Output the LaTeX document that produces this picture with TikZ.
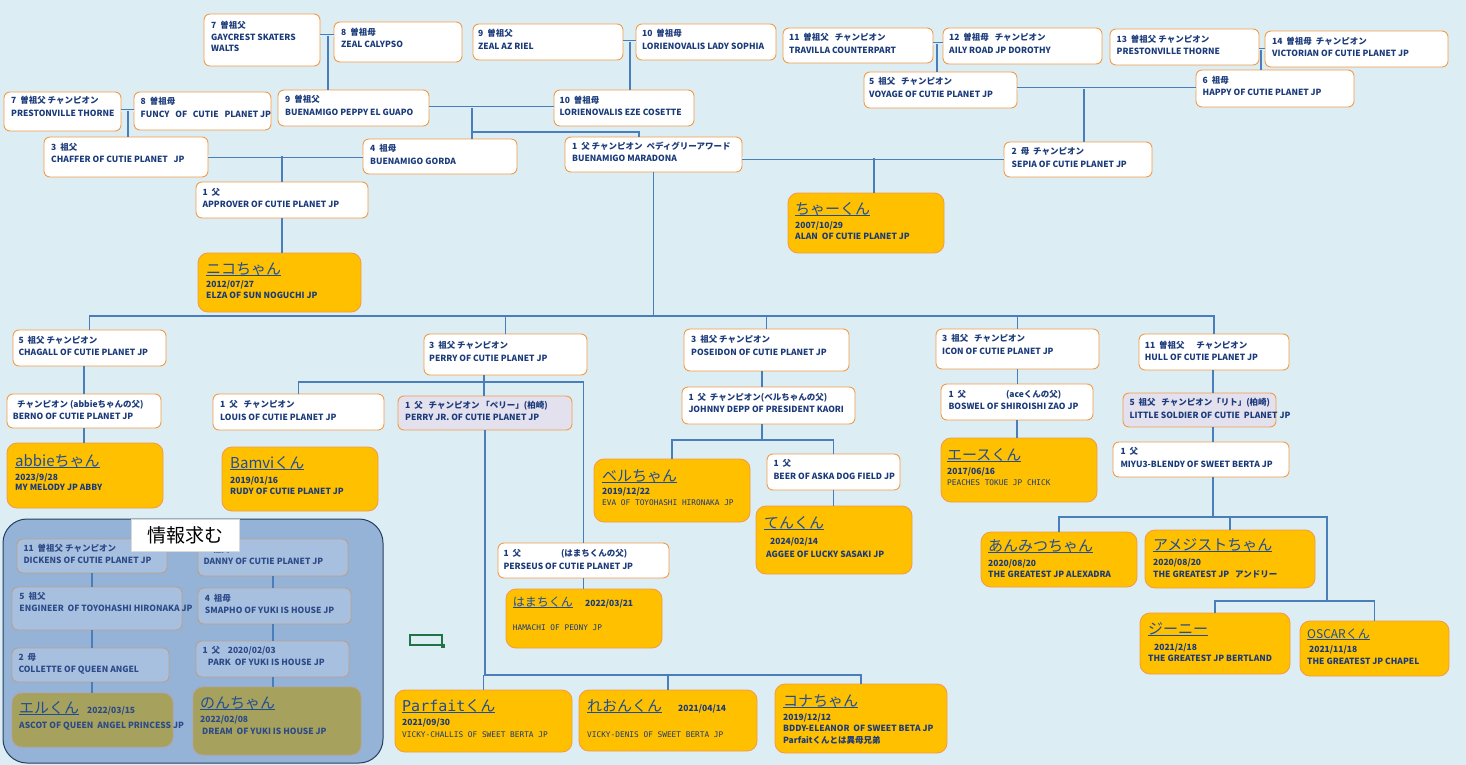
\documentclass[tikz,border=0pt]{standalone}
\usepackage{fontspec}
\setmainfont{Noto Sans CJK JP}
\newfontfamily\monof{DejaVu Sans Mono}
\usetikzlibrary{fit}
\definecolor{bgc}{HTML}{DCEEF4}
\definecolor{bord}{HTML}{F59A45}
\definecolor{gold}{HTML}{FFC000}
\definecolor{lav}{HTML}{E4E1EE}
\definecolor{navy}{HTML}{1A3A7A}
\definecolor{tblue}{HTML}{1F4E99}
\definecolor{lblue}{HTML}{4A7EBB}
\definecolor{pfill}{HTML}{95B3D7}
\definecolor{pdark}{HTML}{243F60}
\definecolor{pinner}{HTML}{A8C0DF}
\definecolor{pbord}{HTML}{B9A08E}
\definecolor{olivef}{HTML}{A6A15C}
\definecolor{ptext}{HTML}{2C4A88}
\definecolor{xlgreen}{HTML}{217346}
\newcommand\uln[1]{\setbox0=\hbox{#1}\rlap{\rule[-2.2pt]{\wd0}{1.1pt}}\box0}
\newcommand\bx[6]{\node[#2, fit={(#3,#4) (#5,#6)}] (#1) {};}
\newcommand\tline[6]{\node[#2, anchor=base west] (#1) at ([shift={(#4,#5)}]#3.north west) {#6};}
\newcommand\dbl[2]{\draw[dout] #1 -- #2; \draw[din] #1 -- #2;}
\tikzset{
  wb/.style={rectangle, draw=bord, line width=0.9pt, fill=white, rounded corners=6pt, inner sep=0pt, outer sep=0pt},
  lb/.style={wb, fill=lav},
  yb/.style={wb, fill=gold, rounded corners=10pt},
  pb/.style={wb, fill=pinner, draw=pbord},
  ob/.style={yb, fill=olivef, draw=pbord},
  txt/.style={inner sep=0pt, text=navy, font=\bfseries\fontsize{8.5}{10}\selectfont},
  ptxt/.style={txt, text=ptext},
  ttl/.style={inner sep=0pt, text=tblue, font=\fontsize{15}{17}\selectfont},
  ttls/.style={ttl, font=\fontsize{12}{14}\selectfont},
  tmono/.style={inner sep=0pt, text=navy, font=\monof\fontsize{7.8}{9}\selectfont},
  conn/.style={draw=lblue, line width=1.8pt},
  pconn/.style={draw=lblue, line width=1.3pt},
  dout/.style={draw=lblue, line width=3pt},
  din/.style={draw=bgc, line width=1.1pt},
}
\begin{document}
\begin{tikzpicture}[x=1pt,y=-1pt]
\useasboundingbox (0,0) rectangle (1466,765);
\fill[bgc] (0,0) rectangle (1466,765);
% ---------- panel ----------
\node[rectangle, draw=pdark, fill=pfill, line width=1pt, rounded corners=24pt, inner sep=0pt, outer sep=0pt, fit={(3,519) (383,763)}] (panel) {};
% ---------- boxes: top ----------
\bx{g7}{wb}{204}{14}{320}{66}
\bx{g8}{wb}{334}{22}{462}{62}
\bx{g9}{wb}{473}{24}{623}{60}
\bx{g10}{wb}{636}{24}{776}{60}
\bx{g11}{wb}{783}{28}{933}{63}
\bx{g12}{wb}{943}{28}{1102}{64}
\bx{g13}{wb}{1110}{29}{1259}{65}
\bx{g14}{wb}{1265}{31}{1448}{67}
\bx{h7}{wb}{4}{92}{121}{131}
\bx{h8}{wb}{134}{92}{271}{130}
\bx{h9}{wb}{278}{90}{429}{126}
\bx{h10}{wb}{554}{90}{694}{126}
\bx{v5}{wb}{864}{72}{1017}{108}
\bx{h6}{wb}{1196}{70}{1354}{107}
\bx{c3}{wb}{44}{137}{208}{177}
\bx{c4}{wb}{363}{139}{517}{174}
\bx{c1}{wb}{565}{137}{742}{172}
\bx{c2}{wb}{1004}{142}{1152}{177}
\bx{d1}{wb}{196}{182}{368}{218}
\bx{nico}{yb}{198}{253}{361}{312}
\bx{chaa}{yb}{788}{193}{944}{253}
% ---------- middle ----------
\bx{e5}{wb}{13}{330}{166}{366}
\bx{e3a}{wb}{424}{334}{587}{375}
\bx{e3b}{wb}{684}{329}{849}{371}
\bx{e3c}{wb}{936}{329}{1099}{369}
\bx{e11}{wb}{1139}{334}{1289}{370}
\bx{f1}{wb}{7}{394}{161}{428}
\bx{f2}{wb}{213}{394}{384}{430}
\bx{f3}{lb}{398}{396}{572}{430}
\bx{f4}{wb}{682}{387}{855}{424}
\bx{f5}{wb}{941}{384}{1093}{420}
\bx{f6}{lb}{1123}{393}{1276}{427}
\bx{miyu}{wb}{1113}{442}{1289}{477}
\bx{beer}{wb}{767}{454}{900}{490}
\bx{perseus}{wb}{498}{543}{669}{578}
\bx{abbie}{yb}{7}{443}{163}{508}
\bx{bamvi}{yb}{222}{447}{378}{511}
\bx{bell}{yb}{594}{459}{750}{522}
\bx{ace}{yb}{941}{438}{1097}{502}
\bx{ten}{yb}{756}{506}{912}{574}
\bx{hamachi}{yb}{506}{589}{662}{648}
\bx{anmitsu}{yb}{981}{532}{1137}{587}
\bx{ame}{yb}{1145}{530}{1315}{588}
\bx{jini}{yb}{1140}{613}{1290}{674}
\bx{oscar}{yb}{1300}{621}{1449}{676}
\bx{parfait}{yb}{395}{690}{572}{752}
\bx{leon}{yb}{579}{690}{757}{751}
\bx{kona}{yb}{775}{684}{947}{753}
% ---------- panel boxes ----------
\bx{p11}{pb}{17}{539}{167}{573}
\bx{p9}{pb}{198}{539}{348}{576}
\bx{p5}{pb}{12}{587}{182}{630}
\bx{p4}{pb}{198}{588}{351}{624}
\bx{p2}{pb}{12}{648}{169}{682}
\bx{p1}{pb}{196}{641}{349}{677}
\bx{eru}{ob}{12}{693}{173}{747}
\bx{non}{ob}{193}{687}{361}{755}
% ---------- texts: top ----------
\tline{g7a}{txt}{g7}{7}{14.5}{7~~曽祖父}
\tline{g7b}{txt}{g7}{7}{26.5}{GAYCREST SKATERS}
\tline{g7c}{txt}{g7}{7}{37.5}{WALTS}
\tline{g8a}{txt}{g8}{7}{13.5}{8~~曽祖母}
\tline{g8b}{txt}{g8}{7}{25.5}{ZEAL CALYPSO}
\tline{g9a}{txt}{g9}{5}{13}{9~~曽祖父}
\tline{g9b}{txt}{g9}{5}{26}{ZEAL AZ RIEL}
\tline{g10a}{txt}{g10}{6}{13}{10~~曽祖母}
\tline{g10b}{txt}{g10}{6}{26}{LORIENOVALIS LADY SOPHIA}
\tline{g11a}{txt}{g11}{6}{12.5}{11~~曽祖父~~~チャンピオン}
\tline{g11b}{txt}{g11}{6}{25.5}{TRAVILLA COUNTERPART}
\tline{g12a}{txt}{g12}{6}{12.5}{12~~曽祖母~~~チャンピオン}
\tline{g12b}{txt}{g12}{6}{25.5}{AILY ROAD JP DOROTHY}
\tline{g13a}{txt}{g13}{6.5}{13.5}{13~~曽祖父 チャンピオン}
\tline{g13b}{txt}{g13}{6.5}{26}{PRESTONVILLE THORNE}
\tline{g14a}{txt}{g14}{7}{13.5}{14~~曽祖母~~チャンピオン}
\tline{g14b}{txt}{g14}{7}{26}{VICTORIAN OF CUTIE PLANET JP}
\tline{h7a}{txt}{h7}{7}{12}{7~~曽祖父 チャンピオン}
\tline{h7b}{txt}{h7}{7}{24.5}{PRESTONVILLE THORNE}
\tline{h8a}{txt}{h8}{6.5}{12.5}{8~~曽祖母}
\tline{h8b}{txt}{h8}{6.5}{25.5}{FUNCY~~~OF~~~CUTIE~~~PLANET JP}
\tline{h9a}{txt}{h9}{7}{12.5}{9~~曽祖父}
\tline{h9b}{txt}{h9}{7}{25.5}{BUENAMIGO PEPPY EL GUAPO}
\tline{h10a}{txt}{h10}{5.5}{13.5}{10~~曽祖母}
\tline{h10b}{txt}{h10}{5.5}{26}{LORIENOVALIS EZE COSETTE}
\tline{v5a}{txt}{v5}{5}{13}{5~~祖父~~~チャンピオン}
\tline{v5b}{txt}{v5}{5}{25.5}{VOYAGE OF CUTIE PLANET JP}
\tline{h6a}{txt}{h6}{6.5}{13.5}{6~~祖母}
\tline{h6b}{txt}{h6}{6.5}{25.5}{HAPPY OF CUTIE PLANET JP}
\tline{c3a}{txt}{c3}{7}{13}{3~~祖父}
\tline{c3b}{txt}{c3}{7}{25.5}{CHAFFER OF CUTIE PLANET~~~JP}
\tline{c4a}{txt}{c4}{7}{12.5}{4~~祖母}
\tline{c4b}{txt}{c4}{7}{25.5}{BUENAMIGO GORDA}
\tline{c1a}{txt}{c1}{7}{12.5}{1~~父 チャンピオン~~ペディグリーアワード}
\tline{c1b}{txt}{c1}{7}{24.5}{BUENAMIGO MARADONA}
\tline{c2a}{txt}{c2}{7.5}{12.5}{2~~母~~チャンピオン}
\tline{c2b}{txt}{c2}{7.5}{25.5}{SEPIA OF CUTIE PLANET JP}
\tline{d1a}{txt}{d1}{6.3}{13.5}{1~~父}
\tline{d1b}{txt}{d1}{6.3}{25.5}{APPROVER OF CUTIE PLANET JP}
\tline{nicoa}{ttl}{nico}{8}{21}{\uln{ニコちゃん}}
\tline{nicob}{txt}{nico}{8}{34}{2012/07/27}
\tline{nicoc}{txt}{nico}{8}{45.5}{ELZA OF SUN NOGUCHI JP}
\tline{chaaa}{ttl}{chaa}{7}{21}{\uln{ちゃーくん}}
\tline{chaab}{txt}{chaa}{7}{35.5}{2007/10/29}
\tline{chaac}{txt}{chaa}{7}{46.5}{ALAN~~OF CUTIE PLANET JP}
% ---------- texts: middle ----------
\tline{e5a}{txt}{e5}{5.3}{13.5}{5~~祖父 チャンピオン}
\tline{e5b}{txt}{e5}{5.3}{25.5}{CHAGALL OF CUTIE PLANET JP}
\tline{e3aa}{txt}{e3a}{5}{14.5}{3~~祖父 チャンピオン}
\tline{e3ab}{txt}{e3a}{5}{27}{PERRY OF CUTIE PLANET JP}
\tline{e3ba}{txt}{e3b}{7}{13}{3~~祖父 チャンピオン}
\tline{e3bb}{txt}{e3b}{7}{26}{POSEIDON OF CUTIE PLANET JP}
\tline{e3ca}{txt}{e3c}{6}{12.5}{3~~祖父~~~チャンピオン}
\tline{e3cb}{txt}{e3c}{6}{25}{ICON OF CUTIE PLANET JP}
\tline{e11a}{txt}{e11}{5.7}{14}{11~~曽祖父~~~~~~チャンピオン}
\tline{e11b}{txt}{e11}{5.7}{26}{HULL OF CUTIE PLANET JP}
\tline{f1a}{txt}{f1}{10}{13}{チャンピオン (abbieちゃんの父)}
\tline{f1b}{txt}{f1}{5.7}{25}{BERNO OF CUTIE PLANET JP}
\tline{f2a}{txt}{f2}{7}{13.5}{1~~父~~~チャンピオン}
\tline{f2b}{txt}{f2}{7}{26}{LOUIS OF CUTIE PLANET JP}
\tline{f3a}{txt}{f3}{7}{12.5}{1~~父~~~チャンピオン 「ペリー」(柏崎)}
\tline{f3b}{txt}{f3}{7}{24}{PERRY JR. OF CUTIE PLANET JP}
\tline{f4a}{txt}{f4}{6.3}{13}{1~~父~~チャンピオン(ベルちゃんの父)}
\tline{f4b}{txt}{f4}{6.3}{25.5}{JOHNNY DEPP OF PRESIDENT KAORI}
\tline{f5a}{txt}{f5}{7.3}{13.5}{1~~父\hspace{40pt}(aceくんの父)}
\tline{f5b}{txt}{f5}{7.3}{25.5}{BOSWEL OF SHIROISHI ZAO JP}
\tline{f6a}{txt}{f6}{6.3}{12}{5~~祖父~~~チャンピオン「リト」(柏崎)}
\tline{f6b}{txt}{f6}{6.3}{25}{LITTLE SOLDIER OF CUTIE~~PLANET JP}
\tline{miyua}{txt}{miyu}{7.3}{12.5}{1~~父}
\tline{miyub}{txt}{miyu}{7.3}{25}{MIYU3-BLENDY OF SWEET BERTA JP}
\tline{beera}{txt}{beer}{6.3}{12}{1~~父}
\tline{beerb}{txt}{beer}{6.3}{25}{BEER OF ASKA DOG FIELD JP}
\tline{persa}{txt}{perseus}{5.3}{13.5}{1~~父\hspace{40pt}(はまちくんの父)}
\tline{persb}{txt}{perseus}{5.3}{26}{PERSEUS OF CUTIE PLANET JP}
% yellow
\tline{abbiea}{ttl}{abbie}{8}{23}{\uln{abbieちゃん}}
\tline{abbieb}{txt}{abbie}{8}{37}{2023/9/28}
\tline{abbiec}{txt}{abbie}{8}{47.5}{MY MELODY JP ABBY}
\tline{bamvia}{ttl}{bamvi}{8}{21}{\uln{Bamviくん}}
\tline{bamvib}{txt}{bamvi}{8}{36}{2019/01/16}
\tline{bamvic}{txt}{bamvi}{8}{47}{RUDY OF CUTIE PLANET JP}
\tline{bella}{ttl}{bell}{8}{22}{\uln{ベルちゃん}}
\tline{bellb}{txt}{bell}{8}{35}{2019/12/22}
\tline{bellc}{tmono}{bell}{8}{46.5}{EVA OF TOYOHASHI HIRONAKA JP}
\tline{acea}{ttl}{ace}{6}{22}{\uln{エースくん}}
\tline{aceb}{txt}{ace}{6}{36}{2017/06/16}
\tline{acec}{tmono}{ace}{6}{47.5}{PEACHES TOKUE JP CHICK}
\tline{tena}{ttl}{ten}{8}{22}{\uln{てんくん}}
\tline{tenb}{txt}{ten}{14}{38}{2024/02/14}
\tline{tenc}{txt}{ten}{10}{51.5}{AGGEE OF LUCKY SASAKI JP}
\tline{hama}{ttls}{hamachi}{6.7}{17}{\uln{はまちくん}}
\tline{hamb}{txt}{hamachi}{79}{17}{2022/03/21}
\tline{hamc}{tmono}{hamachi}{6.7}{41.5}{HAMACHI OF PEONY JP}
\tline{anma}{ttl}{anmitsu}{7}{19}{\uln{あんみつちゃん}}
\tline{anmb}{txt}{anmitsu}{7}{34.5}{2020/08/20}
\tline{anmc}{txt}{anmitsu}{7}{45.5}{THE GREATEST JP ALEXADRA}
\tline{amea}{ttl}{ame}{8}{20}{\uln{アメジストちゃん}}
\tline{ameb}{txt}{ame}{8}{35.5}{2020/08/20}
\tline{amec}{txt}{ame}{8}{47}{THE GREATEST JP~~~アンドリー}
\tline{jinia}{ttl}{jini}{8}{21}{\uln{ジーニー}}
\tline{jinib}{txt}{jini}{14}{37}{2021/2/18}
\tline{jinic}{txt}{jini}{8}{48.5}{THE GREATEST JP BERTLAND}
\tline{osca}{ttls}{oscar}{7}{17}{\uln{OSCARくん}}
\tline{oscb}{txt}{oscar}{9}{31}{2021/11/18}
\tline{oscc}{txt}{oscar}{7}{43}{THE GREATEST JP CHAPEL}
\tline{parfa}{ttl}{parfait}{7}{21}{\uln{{\monof Parfait}くん}}
\tline{parfb}{txt}{parfait}{7}{35.5}{2021/09/30}
\tline{parfc}{tmono}{parfait}{7}{47.5}{VICKY-CHALLIS OF SWEET BERTA JP}
\tline{leona}{ttl}{leon}{8}{21}{\uln{れおんくん}}
\tline{leonb}{txt}{leon}{99}{21.5}{2021/04/14}
\tline{leonc}{tmono}{leon}{8}{47.5}{VICKY-DENIS OF SWEET BERTA JP}
\tline{konaa}{ttl}{kona}{8}{22}{\uln{コナちゃん}}
\tline{konab}{txt}{kona}{8}{36}{2019/12/12}
\tline{konac}{txt}{kona}{8}{47}{BDDY-ELEANOR~~OF SWEET BETA JP}
\tline{konad}{txt}{kona}{8}{59}{Parfaitくんとは異母兄弟}
% panel texts
\tline{p11a}{ptxt}{p11}{6.3}{12.5}{11~~曽祖父 チャンピオン}
\tline{p11b}{ptxt}{p11}{6.3}{24.5}{DICKENS OF CUTIE PLANET JP}
\tline{p9a}{ptxt}{p9}{5.3}{13}{3~~祖父}
\tline{p9b}{ptxt}{p9}{5.3}{25.5}{DANNY OF CUTIE PLANET JP}
\tline{p5a}{ptxt}{p5}{7.3}{12}{5~~祖父}
\tline{p5b}{ptxt}{p5}{7.3}{24.5}{ENGINEER~~OF TOYOHASHI HIRONAKA JP}
\tline{p4a}{ptxt}{p4}{6.7}{13}{4~~祖母}
\tline{p4b}{ptxt}{p4}{6.7}{25.5}{SMAPHO OF YUKI IS HOUSE JP}
\tline{p2a}{ptxt}{p2}{6.3}{12.5}{2~~母}
\tline{p2b}{ptxt}{p2}{6.3}{24.5}{COLLETTE OF QUEEN ANGEL}
\tline{p1a}{ptxt}{p1}{6.3}{12.5}{1~~父~~~~2020/02/03}
\tline{p1b}{ptxt}{p1}{11.7}{24}{PARK~~OF YUKI IS HOUSE JP}
\tline{erua}{ttl}{eru}{7}{20}{\uln{エルくん}}
\tline{erub}{ptxt}{eru}{75}{20}{2022/03/15}
\tline{eruc}{ptxt}{eru}{7}{35}{ASCOT OF QUEEN~~ANGEL PRINCESS JP}
\tline{nona}{ttl}{non}{7}{21}{\uln{のんちゃん}}
\tline{nonb}{ptxt}{non}{7}{35}{2022/02/08}
\tline{nonc}{ptxt}{non}{9}{47}{DREAM~~OF YUKI IS HOUSE JP}
% ---------- junction coordinates ----------
\coordinate (j78) at (328,36);
\coordinate (j910) at (630,42);
\coordinate (j1112) at (937,44);
\coordinate (j1314) at (1261,50);
\coordinate (jh78) at (128,111);
\coordinate (jh910) at (472,108);
\coordinate (jmar) at (639,132);
\coordinate (jv56) at (1084,89);
\coordinate (j34) at (282,156);
\coordinate (j12) at (874,158);
\coordinate (bus) at (653,316);
\coordinate (jp) at (484,382);
\coordinate (jkids) at (485,675);
\coordinate (jb) at (762,440);
\coordinate (ja) at (1213,517);
\coordinate (jmx) at (1327,517);
\coordinate (jg) at (1327,601);
% ---------- marriage (double) lines ----------
\dbl{(j78 -| g7.east)}{(j78 -| g8.west)}
\dbl{(j910 -| g9.east)}{(j910 -| g10.west)}
\dbl{(j1112 -| g11.east)}{(j1112 -| g12.west)}
\dbl{(j1314 -| g13.east)}{(j1314 -| g14.west)}
\dbl{(jh78 -| h7.east)}{(jh78 -| h8.west)}
\dbl{(jh910 -| h9.east)}{(jh910 -| h10.west)}
\dbl{(jv56 -| v5.east)}{(jv56 -| h6.west)}
\dbl{(j34 -| c3.east)}{(j34 -| c4.west)}
\dbl{(j12 -| c1.east)}{(j12 -| c2.west)}
% ---------- connectors ----------
\draw[conn] (j78) -- (j78 |- h9.north);
\draw[conn] (j910) -- (j910 |- h10.north);
\draw[conn] (j1112) -- (j1112 |- v5.north);
\draw[conn] (j1314) -- (j1314 |- h6.north);
\draw[conn] (jh78) -- (jh78 |- c3.north);
\draw[conn] (jh910) -- (jh910 |- c4.north);
\draw[conn] (jmar -| jh910) -- (jmar) -- (jmar |- c1.north);
\draw[conn] (jv56) -- (jv56 |- c2.north);
\draw[conn] (j34) -- (j34 |- d1.north);
\draw[conn] (j12) -- (j12 |- chaa.north);
\draw[conn] (d1.south) -- (d1.south |- nico.north);
\draw[conn] (c1.south) -- (c1.south |- bus);
\draw[conn] (e5.north) -- (e5.north |- bus) -- (e11.north |- bus) -- (e11.north);
\draw[conn] (e3a.north) -- (e3a.north |- bus);
\draw[conn] (e3b.north) -- (e3b.north |- bus);
\draw[conn] (e3c.north) -- (e3c.north |- bus);
\draw[conn] (f1.north) -- (f1.north |- e5.south);
\draw[conn] (f1.south) -- (f1.south |- abbie.north);
\draw[conn] (jp |- e3a.south) -- (jp);
\draw[conn] (f2.north) |- (jp) -| (perseus.north);
\draw[conn] (jp) -- (jp |- f3.north);
\draw[conn] (f3.south) -- (f3.south |- jkids) -- (kona.north |- jkids) -- (kona.north);
\draw[conn] (parfait.north) -- (parfait.north |- jkids);
\draw[conn] (leon.north) -- (leon.north |- jkids);
\draw[conn] (perseus.south) -- (perseus.south |- hamachi.north);
\draw[conn] (jb |- e3b.south) -- (jb |- f4.north);
\draw[conn] (jb |- f4.south) -- (jb);
\draw[conn] (bell.north) |- (beer.north |- jb) -- (beer.north);
\draw[conn] (beer.south) -- (beer.south |- ten.north);
\draw[conn] (e3c.south) -- (e3c.south |- f5.north);
\draw[conn] (f5.south) -- (f5.south |- ace.north);
\draw[conn] (ja |- e11.south) -- (ja |- f6.north);
\draw[conn] (ja |- f6.south) -- (ja |- miyu.north);
\draw[conn] (ja |- miyu.south) -- (ja);
\draw[conn] (anmitsu.north) |- (jmx) -- (jg);
\draw[conn] (ame.north) -- (ame.north |- jmx);
\draw[conn] (jini.north) |- (oscar.north |- jg) -- (oscar.north);
\draw[pconn] (p11.south) -- (p11.south |- p5.north);
\draw[pconn] (p11.south |- p5.south) -- (p11.south |- p2.north);
\draw[pconn] (p11.south |- p2.south) -- (p11.south |- eru.north);
\draw[pconn] (p9.south) -- (p9.south |- p4.north);
\draw[pconn] (p9.south |- p4.south) -- (p9.south |- p1.north);
\draw[pconn] (p9.south |- p1.south) -- (p9.south |- non.north);
% ---------- label & cell ----------
\node[rectangle, fill=white, draw=white!85!black, line width=0.4pt, inner sep=0pt, outer sep=0pt, minimum width=108pt, minimum height=32pt, anchor=north west, text=black, font=\fontsize{19}{21}\selectfont] (lbl) at (131,519) {情報求む};
\node[rectangle, draw=xlgreen, line width=1.3pt, inner sep=0pt, fit={(410,635) (442,645)}] (cell) {};
\node[rectangle, fill=xlgreen, minimum size=4pt, inner sep=0pt] (cellh) at (cell.south east) {};
\end{tikzpicture}
\end{document}
